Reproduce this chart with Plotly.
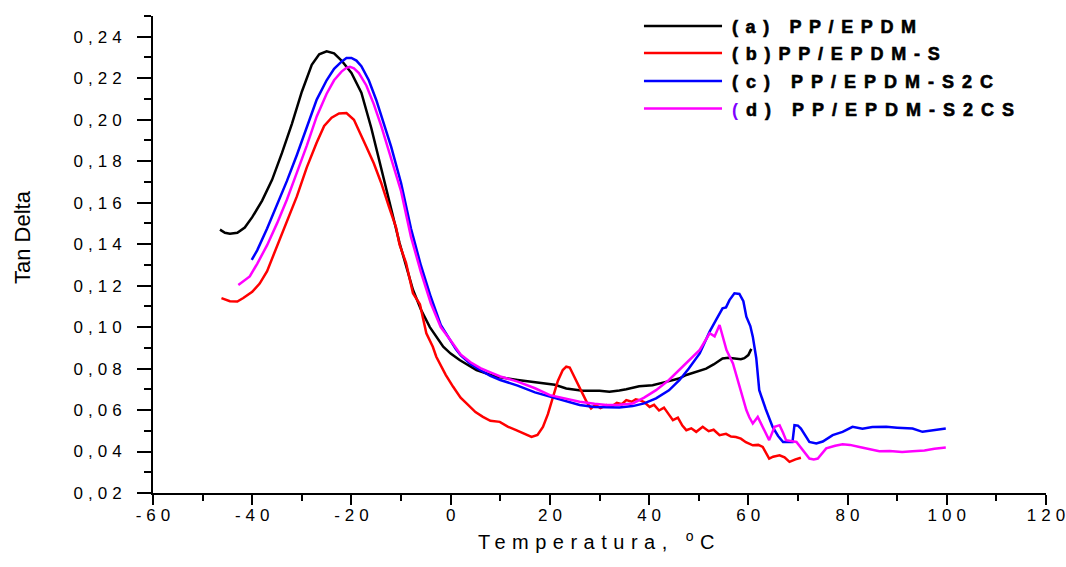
import plotly.graph_objects as go

# ---------------- data ----------------
x_a = [-46.5, -45.5, -44.5, -43, -41.5, -40, -38, -36, -34, -32, -30, -28, -26.5, -25,
       -23.5, -22, -20, -18, -16, -14, -12, -10.3, -7.6, -6, -4.2, -1.5, 0, 1.8, 5.2,
       9.2, 13.5, 17.9, 21, 23.3, 25, 26.6, 30, 32, 34, 35.4, 38, 40.7, 43.4, 46,
       47.5, 50.2, 51.5, 53, 54.8, 56, 57.5, 58.5, 59.2, 60, 60.6]
y_a = [0.147, 0.1455, 0.145, 0.1455, 0.148, 0.153, 0.161, 0.171, 0.184, 0.198, 0.2135,
       0.2265, 0.2315, 0.233, 0.232, 0.2285, 0.2225, 0.213, 0.196, 0.177, 0.158, 0.1405,
       0.118, 0.1085, 0.100, 0.0905, 0.0872, 0.0841, 0.0793, 0.076, 0.0745, 0.0731,
       0.0722, 0.0704, 0.0698, 0.0693, 0.0693, 0.0688, 0.0694, 0.070, 0.0715, 0.072,
       0.0736, 0.0752, 0.0769, 0.0789, 0.080, 0.082, 0.0849, 0.0852, 0.0849, 0.0845,
       0.085, 0.0865, 0.0895]

x_b = [-46.2, -44.5, -43, -41.8, -40, -38.5, -37, -35, -33, -31, -29, -27, -25.5, -24,
       -22.5, -21, -19.5, -18, -17, -15.5, -14, -12.5, -11, -10.3, -9, -7.6, -6.2, -4.9,
       -3.6, -2.9, -2, -1, 0.5, 2, 3.2, 5, 6.5, 8, 9.9, 11.5, 13.2, 14.5, 16.3, 17.5,
       18.6, 19.6, 20.6, 21.6, 22.6, 23.3, 24, 24.6, 25.8, 26.6, 27.5, 28.3, 29.2, 30.2,
       31.4, 32.5, 33.5, 34.5, 35.4, 36.5, 37.3, 38.1, 39, 40.1, 41, 42, 43, 44, 44.8,
       45.8, 46.7, 47.5, 48.5, 49.5, 50.8, 52, 53, 54.2, 55.5, 56.5, 57.5, 58.5, 59.5,
       60.9, 62, 62.9, 63.6, 64.2, 65, 66.3, 67.3, 68.3, 69.5, 70.6]
y_b = [0.114, 0.1125, 0.1123, 0.114, 0.117, 0.121, 0.127, 0.139, 0.151, 0.163, 0.177,
       0.189, 0.197, 0.201, 0.203, 0.2032, 0.200, 0.1925, 0.187, 0.179, 0.1695, 0.1585,
       0.148, 0.1397, 0.131, 0.1163, 0.111, 0.097, 0.0905, 0.0857, 0.0815, 0.077,
       0.0712, 0.066, 0.0632, 0.059, 0.0567, 0.0548, 0.0543, 0.052, 0.0503, 0.049,
       0.047, 0.048, 0.0519, 0.058, 0.0664, 0.074, 0.0793, 0.0809, 0.0805, 0.0777,
       0.072, 0.068, 0.0635, 0.0608, 0.0625, 0.061, 0.0624, 0.0618, 0.0635, 0.0628,
       0.0648, 0.064, 0.0652, 0.0648, 0.0638, 0.0615, 0.0625, 0.0598, 0.0612, 0.0578,
       0.0551, 0.0563, 0.0525, 0.0503, 0.0512, 0.0495, 0.0519, 0.0498, 0.0505, 0.0479,
       0.0485, 0.0472, 0.047, 0.0462, 0.0445, 0.043, 0.0432, 0.0422, 0.039, 0.0366,
       0.0375, 0.0382, 0.0372, 0.035, 0.0362, 0.037]

x_c = [-40.1, -39, -37, -35, -33, -31, -29, -27, -25, -23.5, -22, -21, -20, -19, -18,
       -16.5, -15, -13.5, -12, -10, -8, -6, -4, -2, 0, 1, 2, 4, 6, 8, 10, 13.5, 17, 20,
       23, 26, 29, 31.4, 34, 36.7, 39, 41.4, 44, 46.1, 48, 50.2, 52.2, 53.5, 54.8, 55.5,
       56.2, 57.2, 58.2, 59, 59.6, 60.4, 60.9, 61.6, 62.2, 63.5, 64.9, 66, 67, 68.2,
       68.9, 69.3, 70, 70.6, 71.5, 72.3, 73.7, 75, 77, 79, 81, 83, 85, 87.8, 90, 93.1,
       95.1, 97.5, 99.8]
y_c = [0.1324, 0.137, 0.1475, 0.159, 0.1705, 0.183, 0.196, 0.2097, 0.219, 0.2245, 0.228,
       0.2297, 0.2298, 0.2285, 0.2258, 0.219, 0.2095, 0.1985, 0.187, 0.1695, 0.1475,
       0.1297, 0.1145, 0.101, 0.0935, 0.0895, 0.0865, 0.0822, 0.0792, 0.0765, 0.0745,
       0.0718, 0.0685, 0.0664, 0.0642, 0.0624, 0.0615, 0.0612, 0.0612, 0.0619, 0.0632,
       0.0656, 0.0695, 0.0744, 0.080, 0.0873, 0.0978, 0.1035, 0.109, 0.1095, 0.113,
       0.1163, 0.116, 0.1125, 0.105, 0.1005, 0.0954, 0.085, 0.0696, 0.0605, 0.0519,
       0.0475, 0.0446, 0.0446, 0.0446, 0.0527, 0.0525, 0.0511, 0.0475, 0.0446, 0.0439,
       0.0448, 0.0479, 0.0495, 0.0519, 0.051, 0.0518, 0.0519, 0.0515, 0.0511, 0.0495,
       0.0502, 0.0511]

x_d = [-42.8, -41.5, -40.5, -39, -37, -35, -33, -31, -29, -27, -25, -23.5, -22, -21,
       -20.3, -19.5, -18.5, -17, -15.5, -14, -12, -10, -8, -6, -4, -2, 0, 2, 4, 6, 8, 10,
       13.5, 17, 20, 23, 26, 29, 31.4, 34, 36.7, 39, 41.4, 44, 46.1, 48, 50.2, 52.2,
       53.2, 54.2, 54.8, 55.6, 56.9, 58.2, 59.6, 60.2, 60.9, 61.9, 62.9, 63.6, 64.2,
       65.3, 66.3, 67, 67.6, 69.7, 71, 72.3, 73.2, 74, 75.7, 77.5, 79, 80.5, 82.4, 84.5,
       86.4, 88.5, 91, 93.1, 95.5, 97.5, 99.8]
y_d = [0.1203, 0.1225, 0.1244, 0.1305, 0.1395, 0.150, 0.1615, 0.1745, 0.1875, 0.2016,
       0.2125, 0.219, 0.2232, 0.225, 0.2255, 0.2248, 0.2225, 0.2165, 0.2075, 0.197,
       0.181, 0.1655, 0.1435, 0.1265, 0.1115, 0.100, 0.0935, 0.0868, 0.083, 0.0802,
       0.0782, 0.0762, 0.0737, 0.0705, 0.0672, 0.0655, 0.064, 0.063, 0.0624, 0.0625,
       0.0632, 0.066, 0.0696, 0.0745, 0.0793, 0.0835, 0.089, 0.097, 0.0955, 0.101,
       0.0954, 0.0889, 0.0825, 0.0712, 0.060, 0.0565, 0.0535, 0.0567, 0.0519, 0.048,
       0.0455, 0.0519, 0.0527, 0.049, 0.0455, 0.0446, 0.0406, 0.0366, 0.0362, 0.0366,
       0.0415, 0.0428, 0.0435, 0.0432, 0.0422, 0.041, 0.0401, 0.0403, 0.0398, 0.0401,
       0.0405, 0.0413, 0.0419]

series_names = ["(a) PP/EPDM", "(b)PP/EPDM-S", "(c) PP/EPDM-S2C", "(d) PP/EPDM-S2CS"]
series_colors = ["#000000", "#ff0000", "#0000ff", "#ff00ff"]

x_tick_vals = [-60, -40, -20, 0, 20, 40, 60, 80, 100, 120]
x_tick_text = ["-60", "-40", "-20", "0", "20", "40", "60", "80", "100", "120"]
x_minor_vals = [-50, -30, -10, 10, 30, 50, 70, 90, 110]
y_tick_vals = [0.02, 0.04, 0.06, 0.08, 0.10, 0.12, 0.14, 0.16, 0.18, 0.20, 0.22, 0.24]
y_tick_text = ["0,02", "0,04", "0,06", "0,08", "0,10", "0,12", "0,14", "0,16", "0,18",
               "0,20", "0,22", "0,24"]
y_minor_vals = [0.03, 0.05, 0.07, 0.09, 0.11, 0.13, 0.15, 0.17, 0.19, 0.21, 0.23, 0.25]

# ---------------- figure ----------------
FONT = "Arial, Liberation Sans, sans-serif"


def spaced(s, ls, extra=""):
    return f'<span style="letter-spacing:{ls}px{extra}">{s}</span>'


def spaced_label(s, ls):
    # letter-spaced, but without trailing space after the last character
    if len(s) < 2:
        return s
    return spaced(s[:-1], ls) + s[-1]


fig = go.Figure()
for xs, ys, name, col in zip([x_a, x_b, x_c, x_d], [y_a, y_b, y_c, y_d],
                             series_names, series_colors):
    fig.add_trace(go.Scatter(x=xs, y=ys, mode="lines", name=name,
                             line=dict(color=col, width=2.5), showlegend=False))

axis_common = dict(showline=True, linecolor="black", linewidth=2, showgrid=False,
                   zeroline=False, ticks="outside", tickcolor="black", tickwidth=2,
                   tickmode="array", ticklabeloverflow="allow",
                   tickfont=dict(family=FONT, size=17, color="black"))

fig.update_xaxes(range=[-60, 120], tickvals=x_tick_vals,
                 ticktext=[spaced_label(t, 5) for t in x_tick_text], ticklen=10,
                 ticklabelstandoff=-4,
                 minor=dict(tickmode="array", tickvals=x_minor_vals, ticks="outside",
                            ticklen=6, tickwidth=2, tickcolor="black"),
                 title=dict(text=spaced("Temperatura, <sup>o</sup>C", 6.5),
                            font=dict(family=FONT, size=20, color="black"), standoff=11),
                 **axis_common)
fig.update_yaxes(range=[0.02, 0.25], tickvals=y_tick_vals,
                 ticktext=[spaced_label(t, 5) for t in y_tick_text], ticklen=14,
                 ticklabelstandoff=12,
                 minor=dict(tickmode="array", tickvals=y_minor_vals, ticks="outside",
                            ticklen=7, tickwidth=2, tickcolor="black"),
                 **axis_common)

# y-axis title sits a little above the plot centre in the reference
fig.add_annotation(xref="paper", yref="paper", x=-0.1461, y=0.5356, text="Tan Delta",
                   textangle=-90, showarrow=False, xanchor="center", yanchor="middle",
                   font=dict(family=FONT, size=22, color="black"))

# legend drawn as short lines + spaced bold labels (as in the reference)
leg_line_y = [0.979, 0.9224, 0.8637, 0.8059]
leg_text_y = [0.9769, 0.9203, 0.8616, 0.8038]
heavy = ";stroke:#000;stroke-width:0.6px"
leg_labels = [
    spaced("<b>(a) PP/EPDM</b>", 7.6, heavy),
    spaced("<b>(b)PP/EPDM-S</b>", 7.8, heavy),
    spaced("<b>(c) PP/EPDM-S2C</b>", 8.0, heavy),
    '<span style="letter-spacing:8px;fill:#7f00ff"><b>(</b></span>'
    + spaced("<b>d) PP/EPDM-S2CS</b>", 8.0, heavy),
]
for ly, ty, lab, col in zip(leg_line_y, leg_text_y, leg_labels, series_colors):
    fig.add_shape(type="line", xref="paper", yref="paper", x0=0.5498, x1=0.6372,
                  y0=ly, y1=ly, line=dict(color=col, width=2.5))
    fig.add_annotation(xref="paper", yref="paper", x=0.6461, y=ty, text=lab,
                       showarrow=False, xanchor="left", yanchor="middle",
                       font=dict(family=FONT, size=18, color="black"))

fig.update_layout(width=1066, height=567, plot_bgcolor="white", paper_bgcolor="white",
                  margin=dict(l=153, r=20, t=16, b=74, autoexpand=False),
                  font=dict(family=FONT, color="black"))

# remove the browser's default 8px page margin so the figure fills the window exactly
fig.write_html("out.html", config={"displayModeBar": False},
               post_script="document.body.style.margin='0px';"
                           "document.body.style.overflow='hidden';")
